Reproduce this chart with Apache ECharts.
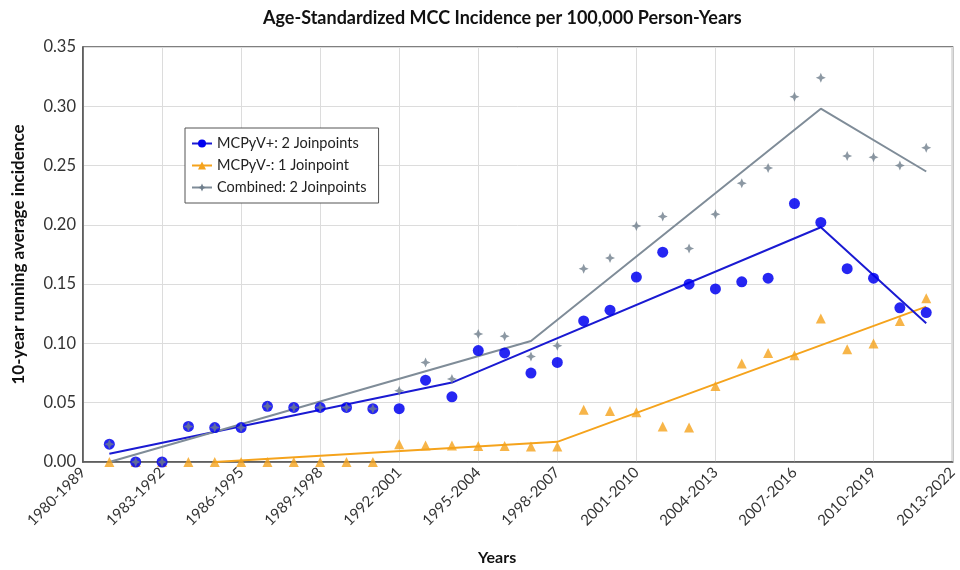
<!DOCTYPE html>
<html>
<head>
<meta charset="utf-8">
<script src="https://cdn.jsdelivr.net/npm/echarts@6/dist/echarts.min.js"></script>
<style>
html,body{margin:0;padding:0;background:#fff;}
#chart{width:960px;height:570px;}
</style>
</head>
<body>
<div id="chart"></div>
<script>
const categories = ['1980-1989','1981-1990','1982-1991','1983-1992','1984-1993','1985-1994','1986-1995','1987-1996','1988-1997','1989-1998','1990-1999','1991-2000','1992-2001','1993-2002','1994-2003','1995-2004','1996-2005','1997-2006','1998-2007','1999-2008','2000-2009','2001-2010','2002-2011','2003-2012','2004-2013','2005-2014','2006-2015','2007-2016','2008-2017','2009-2018','2010-2019','2011-2020','2012-2021','2013-2022'];

const mcpyvPos = [null,0.015,0,0,0.030,0.029,0.029,0.047,0.046,0.046,0.046,0.045,0.045,0.069,0.055,0.094,0.092,0.075,0.084,0.119,0.128,0.156,0.177,0.150,0.146,0.152,0.155,0.218,0.202,0.163,0.155,0.130,0.126,null];
const mcpyvNeg = [null,0,0,0,0,0,0,0,0,0,0,0,0.015,0.014,0.014,0.0135,0.0135,0.013,0.013,0.044,0.043,0.042,0.030,0.029,0.064,0.083,0.092,0.090,0.121,0.095,0.100,0.119,0.138,null];
const combined = [null,0.015,0,0,0.030,0.029,0.029,0.047,0.046,0.046,0.046,0.045,0.060,0.084,0.070,0.108,0.106,0.089,0.098,0.163,0.172,0.199,0.207,0.180,0.209,0.235,0.248,0.308,0.324,0.258,0.257,0.250,0.265,null];

// Joinpoint fitted segments (vertices only)
const posFit = [['1981-1990',0.007],['1994-2003',0.067],['2008-2017',0.198],['2012-2021',0.117]];
const negFit = [['1985-1994',0.0],['1998-2007',0.017],['2012-2021',0.131]];
const combFit = [['1981-1990',0.0],['1997-2006',0.102],['2008-2017',0.298],['2012-2021',0.245]];

const yTicks = {min:0, max:0.35, interval:0.05};

const legendNames = ['MCPyV+: 2 Joinpoints','MCPyV-: 1 Joinpoint','Combined: 2 Joinpoints'];

const colBlueLine = '#1a1ad2', colBlue = '#0000f0';
const colOrange = '#f5a31c';
const colGrayLine = '#7f8c98', colGray = '#6f7e8c';
const star = 'path://M0,-10 L3,-3 L10,0 L3,3 L0,10 L-3,3 L-10,0 L-3,-3 Z';
const FONT = 'Lato';

const chart = echarts.init(document.getElementById('chart'));
chart.setOption({
  animation:false,
  textStyle:{fontFamily:FONT},
  title:{
    text:'Age-Standardized MCC Incidence per 100,000 Person-Years',
    left:258, top:4,
    textStyle:{fontFamily:FONT, fontSize:18, fontWeight:'bold', color:'#111'}
  },
  legend:{
    data:legendNames,
    orient:'vertical', left:185, top:128,
    backgroundColor:'#fff', borderColor:'#555', borderWidth:1,
    padding:[8,12,8,6], itemGap:7, itemWidth:20, itemHeight:10,
    textStyle:{fontFamily:FONT, fontSize:14.5, color:'#222'}
  },
  grid:{left:83, right:7, top:47, bottom:108, show:true, borderColor:'#555', borderWidth:1.5, backgroundColor:'transparent'},
  xAxis:{
    type:'category', data:categories, boundaryGap:false,
    axisLine:{lineStyle:{color:'#555', width:1.5}},
    axisTick:{show:false},
    axisLabel:{interval:2, rotate:45, fontSize:15, color:'#333', margin:8, fontFamily:FONT},
    splitLine:{show:true, interval:2, lineStyle:{color:'#dcdcdc', width:1}}
  },
  yAxis:{
    type:'value', min:yTicks.min, max:yTicks.max, interval:yTicks.interval,
    name:'10-year running average incidence', nameLocation:'middle', nameGap:56,
    nameTextStyle:{fontSize:17, fontWeight:'bold', color:'#111', fontFamily:FONT},
    axisLine:{show:true, lineStyle:{color:'#555', width:1.5}},
    axisTick:{show:false},
    axisLabel:{fontSize:16.5, color:'#333', formatter:v=>v.toFixed(2), margin:7, fontFamily:FONT},
    splitLine:{lineStyle:{color:'#dcdcdc', width:1}}
  },
  graphic:[{
    type:'text', left:478, top:550,
    style:{text:'Years', font:'bold 16px Lato', fill:'#111'}
  }],
  series:[
    {name:legendNames[1], type:'line', data:negFit, connectNulls:true, symbol:'triangle', symbolSize:10, showSymbol:false,
     lineStyle:{color:colOrange, width:2}, itemStyle:{color:colOrange}, z:2},
    {name:legendNames[0], type:'line', data:posFit, connectNulls:true, symbol:'circle', symbolSize:9, showSymbol:false,
     lineStyle:{color:colBlueLine, width:2}, itemStyle:{color:colBlue}, z:2},
    {name:legendNames[2], type:'line', data:combFit, connectNulls:true, symbol:star, symbolSize:10, showSymbol:false,
     lineStyle:{color:colGrayLine, width:2}, itemStyle:{color:colGray}, z:2},
    {name:'negPts', type:'scatter', data:mcpyvNeg, symbol:'triangle', symbolSize:10, itemStyle:{color:colOrange}, z:3},
    {name:'posPts', type:'scatter', data:mcpyvPos, symbol:'circle', symbolSize:11, itemStyle:{color:colBlue, opacity:0.85}, z:4},
    {name:'combPts', type:'scatter', data:combined, symbol:star, symbolSize:10, itemStyle:{color:colGray}, z:5}
  ]
});
</script>
</body>
</html>
